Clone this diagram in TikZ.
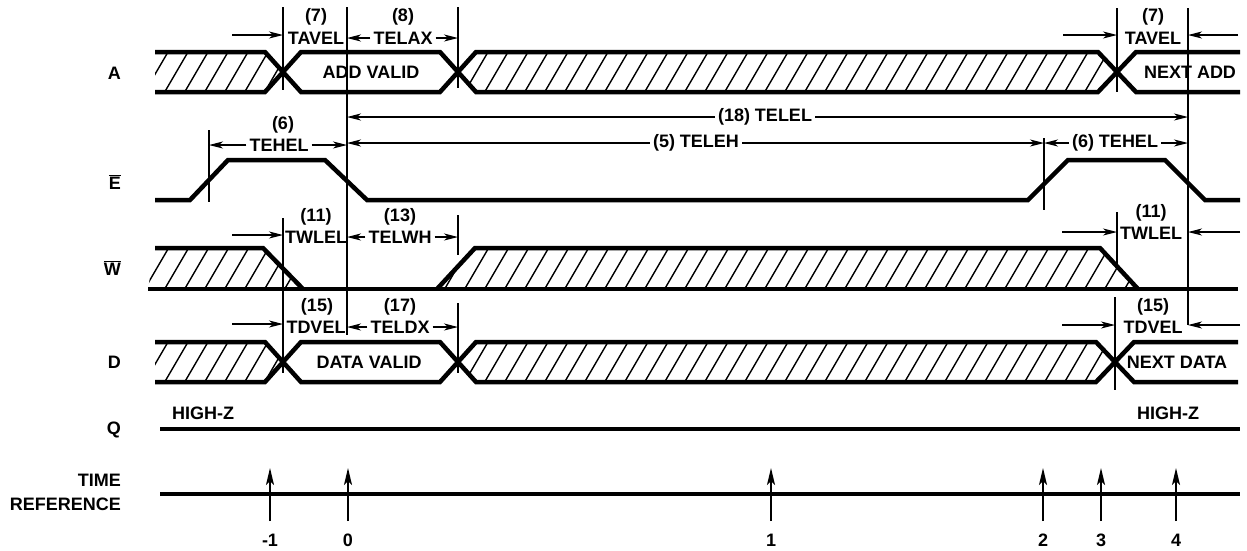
\documentclass[tikz,border=0pt]{standalone}
\usepackage{fontspec}
\setmainfont{Liberation Sans}
\usetikzlibrary{arrows.meta, calc}

\begin{document}
\begin{tikzpicture}[
    x=1pt, y=-1pt,
    bus/.style={line width=4.5pt},
    guide/.style={line width=1.2pt},
    dim/.style={line width=1.2pt, -{Stealth[length=14pt, width=7pt, inset=4pt]}},
    hatch/.style={line width=1.4pt},
    tick/.style={line width=2pt, -{Stealth[length=17pt, width=8pt, inset=4pt]}},
    every node/.style={font=\fontsize{18}{21}\selectfont\bfseries, inner xsep=3pt, inner ysep=0pt}
]
    \useasboundingbox (0,0) rectangle (1247,550);

    % ===============================
    % 1. TIME MARKS (guide positions)
    % ===============================
    \coordinate (gs) at (209,0);
    \coordinate (gm) at (283,0);
    \coordinate (gz) at (347,0);
    \coordinate (gx) at (458,0);
    \coordinate (ge) at (1044,0);
    \coordinate (gd) at (1115,0);
    \coordinate (gn) at (1117,0);
    \coordinate (gf) at (1188,0);

    \foreach \gx/\ya/\yb in {283/7/90, 347/7/335, 458/7/88, 1117/8/92, 1188/8/325,
                             209/130/202, 1044/138/210,
                             283/218/373, 458/215/255, 1117/212/268,
                             458/303/373, 1115/297/390}
        \draw[guide] (\gx,\ya) -- (\gx,\yb);

    % ===============================
    % 2. SIGNAL NAMES
    % ===============================
    \node[anchor=east] (lblA) at (124,73) {A};
    \node[anchor=east] (lblE) at (124,182) {$\overline{\mbox{E}}$};
    \node[anchor=east] (lblW) at (124,268) {$\overline{\mbox{W}}$};
    \node[anchor=east] (lblD) at (124,362) {D};
    \node[anchor=east] (lblQ) at (124,430) {Q};
    \node[anchor=east, align=right, font=\fontsize{18}{24}\selectfont\bfseries] (lbltime) at (124,492) {TIME\\REFERENCE};

    % ===============================
    % 3. HATCHING (don't care)
    % ===============================
    \begin{scope}
        \clip (155,52) -- (265,52) -- (283,72) -- (265,92) -- (155,92) -- cycle
              (458,72) -- (476,52) -- (1098,52) -- (1117,72) -- (1098,92) -- (476,92) -- cycle;
        \foreach \h in {120,140,...,1140} \draw[hatch] (\h,100) -- ++(35,-60);
    \end{scope}
    \begin{scope}
        \clip (148,289) -- (155,248) -- (263,248) -- (303,289) -- cycle
              (437,289) -- (475,248) -- (1100,248) -- (1138,289) -- cycle;
        \foreach \h in {120,140,...,1140} \draw[hatch] (\h,297) -- ++(35,-60);
    \end{scope}
    \begin{scope}
        \clip (155,342) -- (265,342) -- (283,362) -- (265,382) -- (155,382) -- cycle
              (458,362) -- (476,342) -- (1096,342) -- (1115,362) -- (1096,382) -- (476,382) -- cycle;
        \foreach \h in {120,140,...,1140} \draw[hatch] (\h,390) -- ++(35,-60);
    \end{scope}

    % ===============================
    % 4. WAVEFORMS
    % ===============================
    % A
    \draw[bus] (155,52) -- (265,52) -- (301,92) -- (440,92) -- (476,52) -- (1098,52) -- (1136,92) -- (1240,92);
    \draw[bus] (155,92) -- (265,92) -- (301,52) -- (440,52) -- (476,92) -- (1098,92) -- (1136,52) -- (1240,52);
    \node (addvalid) at (371,72) {ADD VALID};
    \node (nextadd) at (1190,72) {NEXT ADD};

    % E
    \draw[bus] (155,200) -- (190,200) -- (228,160) -- (325,160) -- (367,200) -- (1028,200)
               -- (1068,160) -- (1165,160) -- (1205,200) -- (1240,200);

    % W
    \draw[bus] (155,248) -- (263,248) -- (303,289);
    \draw[bus] (148,289) -- (1238,289);
    \draw[bus] (437,289) -- (475,248) -- (1100,248) -- (1138,289);

    % D
    \draw[bus] (155,342) -- (265,342) -- (301,382) -- (440,382) -- (476,342) -- (1096,342) -- (1134,382) -- (1238,382);
    \draw[bus] (155,382) -- (265,382) -- (301,342) -- (440,342) -- (476,382) -- (1096,382) -- (1134,342) -- (1238,342);
    \node (datavalid) at (369,362) {DATA VALID};
    \node (nextdata) at (1177,362) {NEXT DATA};

    % Q
    \draw[bus] (160,429) -- (1240,429);
    \node (hizl) at (203,413) {HIGH-Z};
    \node (hizr) at (1168,413) {HIGH-Z};

    % ===============================
    % 5. TIMING PARAMETERS
    % ===============================
    % A row
    \node (n7a) at (316,17) {(7)};
    \node (tavela) at (316,38) {TAVEL};
    \node (n8) at (403,17) {(8)};
    \node (telax) at (403,38) {TELAX};
    \node (n7b) at (1153,17) {(7)};
    \node (tavelb) at (1153,38) {TAVEL};
    \coordinate (tavelain) at (232,35);
    \coordinate (tavelbin) at (1063,35);
    \coordinate (tavelbout) at (1238,35);
    \draw[dim] (tavelain) -- (tavelain -| gm);
    \draw[dim] (telax.west) -- (telax.west -| gz);
    \draw[dim] (telax.east) -- (telax.east -| gx);
    \draw[dim] (tavelbin) -- (tavelbin -| gn);
    \draw[dim] (tavelbout) -- (tavelbout -| gf);

    % E row
    \node (n6a) at (283,125) {(6)};
    \node (tehela) at (279,145) {TEHEL};
    \draw[dim] (tehela.west) -- (tehela.west -| gs);
    \draw[dim] (tehela.east) -- (tehela.east -| gz);
    \node (telel) at (765,117) {(18) TELEL};
    \draw[dim] (telel.west) -- (telel.west -| gz);
    \draw[dim] (telel.east) -- (telel.east -| gf);
    \node (teleh) at (696,143) {(5) TELEH};
    \draw[dim] (teleh.west) -- (teleh.west -| gz);
    \draw[dim] (teleh.east) -- (teleh.east -| ge);
    \node (tehelb) at (1115,143) {(6) TEHEL};
    \draw[dim] (tehelb.west) -- (tehelb.west -| ge);
    \draw[dim] (tehelb.east) -- (tehelb.east -| gf);

    % W row
    \node (n11a) at (316,217) {(11)};
    \node (twlela) at (316,237) {TWLEL};
    \node (n13) at (400,217) {(13)};
    \node (telwh) at (400,237) {TELWH};
    \node (n11b) at (1151,213) {(11)};
    \node (twlelb) at (1151,233) {TWLEL};
    \coordinate (twlelain) at (232,235);
    \coordinate (twlelbin) at (1062,232);
    \coordinate (twlelbout) at (1240,232);
    \draw[dim] (twlelain) -- (twlelain -| gm);
    \draw[dim] (telwh.west) -- (telwh.west -| gz);
    \draw[dim] (telwh.east) -- (telwh.east -| gx);
    \draw[dim] (twlelbin) -- (twlelbin -| gn);
    \draw[dim] (twlelbout) -- (twlelbout -| gf);

    % D row
    \node (n15a) at (317,307) {(15)};
    \node (tdvela) at (316,327) {TDVEL};
    \node (n17) at (400,307) {(17)};
    \node (teldx) at (400,327) {TELDX};
    \node (n15b) at (1153,307) {(15)};
    \node (tdvelb) at (1153,327) {TDVEL};
    \coordinate (tdvelain) at (232,324);
    \coordinate (tdvelbin) at (1062,325);
    \coordinate (tdvelbout) at (1240,325);
    \draw[dim] (tdvelain) -- (tdvelain -| gm);
    \draw[dim] (teldx.west) -- (teldx.west -| gz);
    \draw[dim] (teldx.east) -- (teldx.east -| gx);
    \draw[dim] (tdvelbin) -- (tdvelbin -| gd);
    \draw[dim] (tdvelbout) -- (tdvelbout -| gf);

    % ===============================
    % 6. TIME REFERENCE
    % ===============================
    \draw[bus] (160,494) -- (1240,494);
    \foreach \tx/\tl [count=\i] in {270/-1, 348/0, 771/1, 1043/2, 1101/3, 1176/4} {
        \coordinate (tb\i) at (\tx,521);
        \coordinate (tt\i) at (\tx,468);
        \draw[tick] (tb\i) -- (tt\i);
        \node (tl\i) at (\tx,540) {\tl};
    }

\end{tikzpicture}
\end{document}
